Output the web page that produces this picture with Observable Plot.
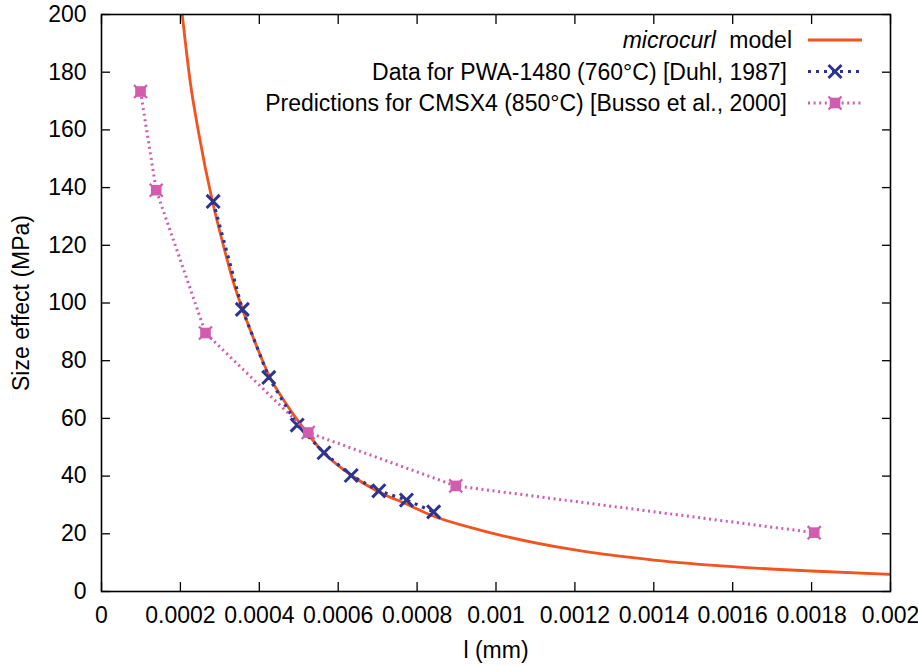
<!DOCTYPE html>
<html>
<head>
<meta charset="utf-8">
<script src="https://cdn.jsdelivr.net/npm/d3@7"></script>
<script src="https://cdn.jsdelivr.net/npm/@observablehq/plot@0.6"></script>
<style>
  html, body { margin: 0; padding: 0; background: #fff; }
  #chart svg { display: block; }
</style>
</head>
<body>
<div id="chart"></div>
<script>
// ---- data ----
const modelL = [0.0002046, 0.0002256, 0.0002467, 0.0002806, 0.00031, 0.0003354, 0.0003567, 0.0003904, 0.0004241, 0.0004621, 0.0005001, 0.000564, 0.000633, 0.000703, 0.000773, 0.000834, 0.00096, 0.001, 0.0012, 0.0014, 0.0016, 0.0018, 0.002];
const modelS = [200, 176.0, 158.7, 135.6, 119.4, 106.7, 98.1, 86.0, 75.0, 66.3, 58.8, 48.0, 40.3, 34.5, 30.3, 26.5, 21.3, 19.9, 14.4, 10.9, 8.6, 7.1, 5.9];

const duhlL = [0.000283, 0.000357, 0.000424, 0.000496, 0.000564, 0.000633, 0.000703, 0.000773, 0.000842];
const duhlS = [135.2, 97.8, 74.2, 57.7, 48.1, 40.2, 34.9, 31.7, 27.6];

const bussoL = [0.0000989, 0.0001387, 0.0002636, 0.000524, 0.000898, 0.0018066];
const bussoS = [173.3, 139.1, 89.6, 55.1, 36.6, 20.4];

const xTicks = [0, 0.0002, 0.0004, 0.0006, 0.0008, 0.001, 0.0012, 0.0014, 0.0016, 0.0018, 0.002];
const xTickLabels = ["0", "0.0002", "0.0004", "0.0006", "0.0008", "0.001", "0.0012", "0.0014", "0.0016", "0.0018", "0.002"];
const yTicks = [0, 20, 40, 60, 80, 100, 120, 140, 160, 180, 200];
const yTickLabels = ["0", "20", "40", "60", "80", "100", "120", "140", "160", "180", "200"];

const xLabel = "l (mm)";
const yLabel = "Size effect (MPa)";
const legendItalic = ["microcurl", "", ""];
const legendText = ["model", "Data for PWA-1480 (760°C) [Duhl, 1987]", "Predictions for CMSX4 (850°C) [Busso et al., 2000]"];

const cModel = "#f2531f";
const cDuhl = "#2b3590";
const cBusso = "#d25cae";

const zip = (a, b) => a.map((v, i) => ({l: v, s: b[i]}));
const model = zip(modelL, modelS);
const duhl = zip(duhlL, duhlS);
const busso = zip(bussoL, bussoS);

const FONT = "'Liberation Sans', Arial, Helvetica, sans-serif";
const FS = 23;

const duhlDash = "3,5";
const bussoDash = "2,3.6";
const duhlR = 6, bussoR = 6;

const chart = Plot.plot({
  width: 918,
  height: 666,
  marginLeft: 101,
  marginRight: 28,
  marginTop: 14,
  marginBottom: 75,
  style: {fontFamily: FONT, fontSize: FS + "px", color: "#000", background: "#fff", overflow: "visible"},
  x: {domain: [0, 0.002]},
  y: {domain: [0, 200]},
  marks: [
    Plot.line(model, {x: "l", y: "s", stroke: cModel, strokeWidth: 2.8, curve: "monotone-x", clip: true}),
    Plot.line(duhl, {x: "l", y: "s", stroke: cDuhl, strokeWidth: 3.2, strokeDasharray: duhlDash, strokeLinecap: "butt", clip: true}),
    Plot.dot(duhl, {x: "l", y: "s", symbol: "times", r: duhlR, stroke: cDuhl, strokeWidth: 3}),
    Plot.line(busso, {x: "l", y: "s", stroke: cBusso, strokeWidth: 3, strokeDasharray: bussoDash, strokeLinecap: "butt", clip: true}),
    Plot.dot(busso, {x: "l", y: "s", symbol: "square", r: bussoR, fill: cBusso, stroke: "none"}),
    Plot.dot(busso, {x: "l", y: "s", symbol: "times", r: bussoR, stroke: cBusso, strokeWidth: 2.2}),
    Plot.frame({stroke: "#000", strokeWidth: 1.6}),
    Plot.axisX(xTicks, {anchor: "bottom", tickSize: -9, tickPadding: 24, strokeWidth: 1.3,
      tickFormat: d => xTickLabels[xTicks.indexOf(d)], label: xLabel, labelArrow: "none", labelAnchor: "center", labelOffset: 66}),
    Plot.axisX(xTicks, {anchor: "top", tickSize: -9, strokeWidth: 1.3, tickFormat: () => "", label: null}),
    Plot.axisY(yTicks, {anchor: "left", tickSize: -9, tickPadding: 24, strokeWidth: 1.3,
      tickFormat: d => yTickLabels[yTicks.indexOf(d)], label: yLabel, labelArrow: "none", labelAnchor: "center", labelOffset: 89}),
    Plot.axisY(yTicks, {anchor: "right", tickSize: -9, strokeWidth: 1.3, tickFormat: () => "", label: null})
  ]
});

document.getElementById("chart").appendChild(chart);

// ---- legend (top-right, inside the frame) ----
const svg = d3.select(chart);
const xs = chart.scale("x"), ys = chart.scale("y");
const frameRight = xs.range[1];
const frameTop = ys.range[1];
const textRight = frameRight - 103;
const sampleX1 = frameRight - 82, sampleX2 = frameRight - 28, markX = frameRight - 55;
const rowY = i => frameTop + 26 + i * 31.5;

const styles = [
  {stroke: cModel, width: 2.8, dash: null, marker: null},
  {stroke: cDuhl, width: 3.2, dash: duhlDash, marker: "times"},
  {stroke: cBusso, width: 3, dash: bussoDash, marker: "boxx"}
];
const lg = svg.append("g").attr("font-family", FONT).attr("font-size", FS);
legendText.forEach((t, i) => {
  const y = rowY(i);
  const txt = lg.append("text").attr("x", textRight + 5).attr("y", y).attr("dy", "0.36em")
    .attr("text-anchor", "end").attr("fill", "#000");
  if (legendItalic[i]) {
    txt.append("tspan").attr("font-style", "italic").text(legendItalic[i]);
    txt.append("tspan").attr("dx", 7).text(" " + t);
  } else {
    txt.attr("x", textRight).append("tspan").text(t);
  }
  const st = styles[i];
  lg.append("line").attr("x1", sampleX1).attr("x2", sampleX2).attr("y1", y).attr("y2", y)
    .attr("stroke", st.stroke).attr("stroke-width", st.width).attr("stroke-dasharray", st.dash);
  if (st.marker === "times") {
    lg.append("path").attr("transform", `translate(${markX},${y})`)
      .attr("d", d3.symbol(d3.symbolTimes, Math.PI * duhlR * duhlR)()).attr("stroke", st.stroke).attr("stroke-width", 3).attr("fill", "none");
  } else if (st.marker === "boxx") {
    lg.append("path").attr("transform", `translate(${markX},${y})`)
      .attr("d", d3.symbol(d3.symbolSquare, Math.PI * bussoR * bussoR)()).attr("fill", st.stroke);
    lg.append("path").attr("transform", `translate(${markX},${y})`)
      .attr("d", d3.symbol(d3.symbolTimes, Math.PI * bussoR * bussoR)()).attr("stroke", st.stroke).attr("stroke-width", 2.2).attr("fill", "none");
  }
});
</script>
</body>
</html>
